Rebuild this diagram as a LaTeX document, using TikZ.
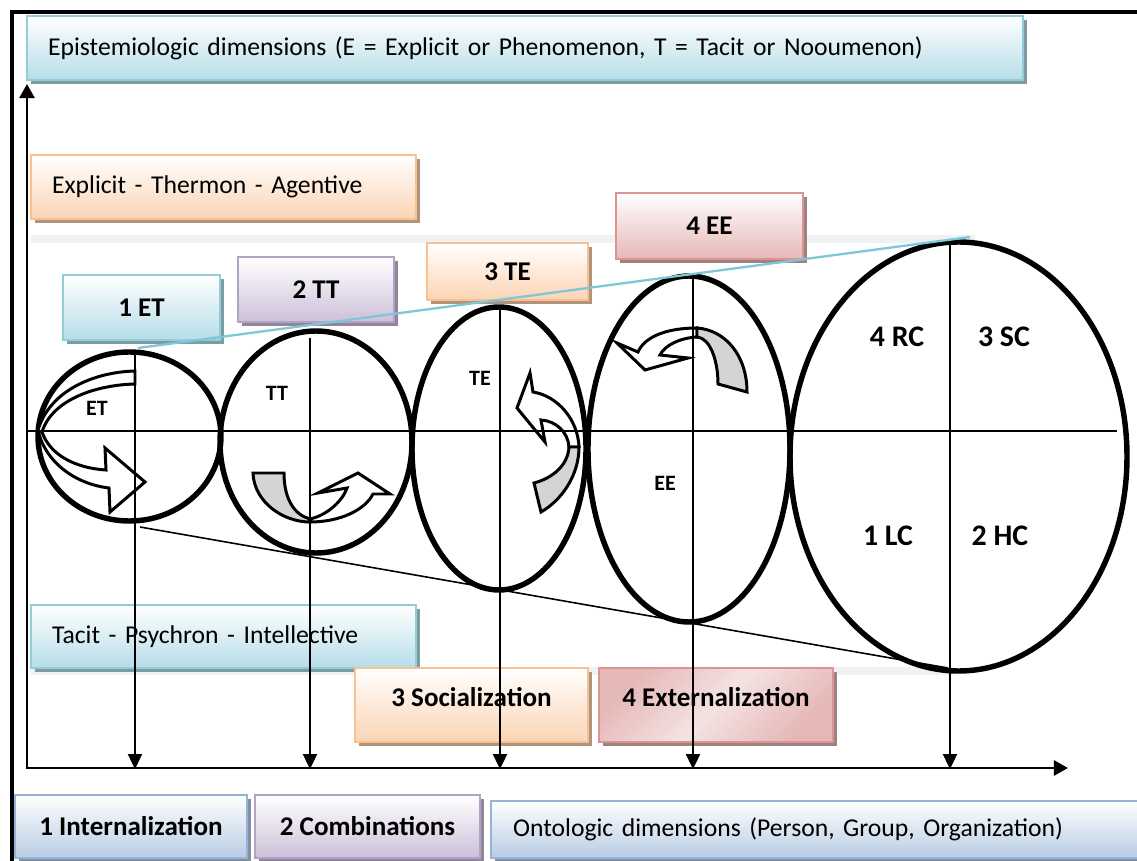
\documentclass[tikz,border=0pt]{standalone}
\usepackage{fontspec}
\setmainfont{Carlito}
\usepackage{tikz}
\usetikzlibrary{arrows.meta}
\usetikzlibrary{shadows}
\definecolor{AquaLine}{HTML}{92CDDC}
\definecolor{AquaFill}{HTML}{B6DDE8}
\definecolor{PeachLine}{HTML}{FAC08F}
\definecolor{PeachFill}{HTML}{FBD4B4}
\definecolor{LilacLine}{HTML}{B2A2C7}
\definecolor{LilacFill}{HTML}{CCC0D9}
\definecolor{RoseLine}{HTML}{D99594}
\definecolor{RoseFill}{HTML}{E5B8B7}
\definecolor{SteelLine}{HTML}{95B3D7}
\definecolor{SteelFill}{HTML}{B8CCE4}
\definecolor{TurnGray}{HTML}{D3D4D6}
\definecolor{BandGray}{HTML}{F0F1F2}
\definecolor{GuideCyan}{HTML}{7FC6D8}

\begin{document}
\begin{tikzpicture}[
x=0.02cm, y=-0.02cm,
MyBox/.style 2 args={draw=#1, line width=1pt, top color=white, bottom color=#2,
  drop shadow={shadow xshift=2.2pt, shadow yshift=-2.2pt, opacity=1, fill=#2!70!black}},
PlainText/.style={align=left, inner xsep=0.42cm, inner ysep=0pt, font=\fontsize{14.6}{17}\selectfont},
BoldText/.style={inner sep=0pt, font=\bfseries\fontsize{15.4}{18}\selectfont},
Quarter/.style={font=\bfseries\fontsize{17}{20}\selectfont},
Small/.style={font=\bfseries\fontsize{12.5}{15}\selectfont},
Rim/.style={draw=black, line width=3.1pt},
Axis/.style={line width=1.7pt, {Triangle[length=8pt,width=8.5pt]}-{Triangle[length=8pt,width=8.5pt]}},
Drop/.style={line width=1.1pt, -{Triangle[length=8.5pt,width=8pt]}},
Turn/.style={draw=black, line width=1.7pt, fill=white, line join=miter},
TurnBack/.style={Turn, fill=TurnGray}
]
\useasboundingbox (0,0) rectangle (1137,861);

% frame and axes
\draw[line width=2.8pt] (12,861) -- (12,12) -- (1137,12);
\draw[Axis] (27,84) -- (27,768) -- (1068,768);

% light bands
\fill[BandGray] (31,235) rectangle (975,243);
\fill[BandGray] (31,667) rectangle (950,675);

% labelled boxes
\node[MyBox={AquaLine}{AquaFill}, PlainText, text width=19.08cm, minimum height=1.28cm] (epist) at (525,48)
  {Epistemiologic dimensions (E = Explicit or Phenomenon, T = Tacit or Nooumenon)};
\node[MyBox={PeachLine}{PeachFill}, PlainText, text width=6.86cm, minimum height=1.28cm] (explicit) at (223.5,187)
  {Explicit - Thermon - Agentive};
\node[MyBox={AquaLine}{AquaFill}, PlainText, text width=6.86cm, minimum height=1.26cm] (tacit) at (223.5,636.5)
  {Tacit - Psychron - Intellective};
\node[MyBox={SteelLine}{SteelFill}, PlainText, inner xsep=0.44cm, text width=12.30cm, minimum height=1.14cm] (onto) at (820.5,829.5)
  {Ontologic dimensions (Person, Group, Organization)};

\node[MyBox={AquaLine}{AquaFill}, BoldText, minimum width=3.14cm, minimum height=1.30cm] (et1) at (141.5,307.5) {1 ET};
\node[MyBox={LilacLine}{LilacFill}, BoldText, minimum width=3.12cm, minimum height=1.30cm] (tt2) at (316,289.5) {2 TT};
\node[MyBox={PeachLine}{PeachFill}, BoldText, minimum width=3.22cm, minimum height=1.14cm] (te3) at (507.5,271.5) {3 TE};
\node[MyBox={RoseLine}{RoseFill}, BoldText, minimum width=3.74cm, minimum height=1.32cm] (ee4) at (709.5,226) {4 EE};

\node[MyBox={PeachLine}{PeachFill}, BoldText, text depth=0.34cm, minimum width=4.66cm, minimum height=1.48cm] (soc) at (471.5,705) {3 Socialization};
\node[MyBox={RoseLine}{RoseFill}, BoldText, text depth=0.34cm, minimum width=4.68cm, minimum height=1.48cm,
  left color=RoseFill, right color=RoseFill, middle color=RoseFill!40, shading angle=45] (ext) at (716,705) {4 Externalization};
\node[MyBox={SteelLine}{SteelFill}, BoldText, minimum width=4.64cm, minimum height=1.26cm] (int) at (131,826.5) {1 Internalization};
\node[MyBox={LilacLine}{LilacFill}, BoldText, minimum width=4.50cm, minimum height=1.26cm] (comb) at (367.5,826.5) {2 Combinations};

% the five stages
\draw[Rim] (129.5,436.5) ellipse [x radius=91.5, y radius=84.5];
\draw[Rim] (316,442) ellipse [x radius=96, y radius=111];
\draw[Rim] (499,448.5) ellipse [x radius=87, y radius=141.5];
\draw[Rim] (689,449) ellipse [x radius=101, y radius=173];
\draw[Rim] (958.5,456.5) ellipse [x radius=168.5, y radius=214.5];

% turning arrows
\draw[Turn] (135,371) .. controls (95,372) and (50,390) .. (38,430)
  .. controls (45,462) and (75,484) .. (109,488) -- (110,512) -- (145,482) -- (105,448) -- (106,470)
  .. controls (75,468) and (50,455) .. (42,432) .. controls (52,400) and (95,385) .. (135,384) -- cycle;

\draw[TurnBack] (253,473) -- (284,473) .. controls (284,500) and (295,515) .. (310,519)
  -- (310,522) .. controls (283,522) and (254,502) .. (253,473) -- cycle;
\draw[Turn] (310,519) .. controls (328,515) and (343,500) .. (347,488) -- (318,493) -- (358,473) -- (390,494)
  -- (373,494) .. controls (365,510) and (340,522) .. (310,522) -- cycle;

\draw[Turn] (517,408) -- (530,373) -- (533,392) .. controls (558,396) and (578,420) .. (579,447)
  -- (569,447) .. controls (568,432) and (556,421) .. (541,420) -- (545,442) -- cycle;
\draw[TurnBack] (579,447) .. controls (579,475) and (562,500) .. (541,512) -- (534,483)
  .. controls (553,478) and (568,465) .. (569,447) -- cycle;

\draw[Turn] (617,343) -- (638,352) .. controls (645,336) and (668,328) .. (697,328) -- (697,337)
  .. controls (680,338) and (665,345) .. (660,355) -- (688,358) -- (645,370) -- cycle;
\draw[TurnBack] (697,328) .. controls (725,330) and (747,355) .. (747,392) -- (718,384)
  .. controls (718,360) and (710,338) .. (697,337) -- cycle;

% axes of the stages
\draw[line width=1.1pt] (27,431) -- (1117,431);
\foreach \n/\x/\t in {1/135/352, 2/310/338, 3/500/309, 4/693/277, 5/950/242}{
  \coordinate (top\n) at (\x,\t);
  \coordinate (foot\n) at (\x,769);
  \draw[Drop] (top\n) -- (foot\n);
}

\draw[GuideCyan, line width=1.3pt] (138,348) -- (970,237);
\draw[line width=0.9pt] (140,527) -- (948,668);

\node[Small] (et) at (97,408) {ET};
\node[Small] (tt) at (277,393) {TT};
\node[Small] (te) at (480,378) {TE};
\node[Small] (ee) at (665,483) {EE};
\node[Quarter] (rc) at (897,337) {4 RC};
\node[Quarter] (sc) at (1004,337) {3 SC};
\node[Quarter] (lc) at (888,536) {1 LC};
\node[Quarter] (hc) at (1000,536) {2 HC};

\end{tikzpicture}
\end{document}
